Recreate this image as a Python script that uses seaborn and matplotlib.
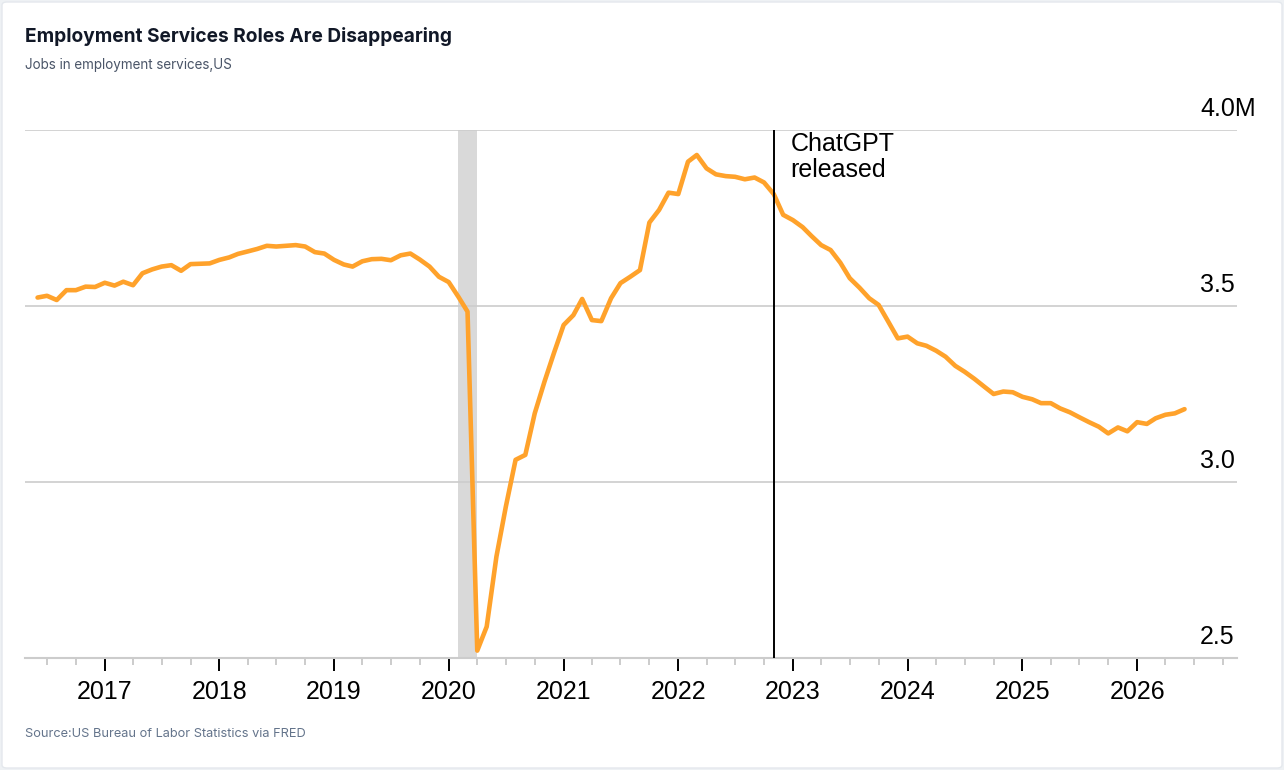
import matplotlib
matplotlib.use("Agg")
import matplotlib.pyplot as plt
import matplotlib.dates as mdates
from matplotlib.patches import FancyBboxPatch
import pandas as pd
import seaborn as sns

# ---------------- data (millions of jobs, monthly) ----------------
start_month = "2016-06-01"
values = [
    # 2016 Jun-Dec
    3.524, 3.529, 3.517, 3.545, 3.545, 3.555, 3.554,
    # 2017
    3.566, 3.558, 3.569, 3.559, 3.593, 3.604, 3.612, 3.616, 3.600, 3.619, 3.620, 3.621,
    # 2018
    3.631, 3.638, 3.648, 3.655, 3.662, 3.671, 3.669, 3.671, 3.673, 3.669, 3.653, 3.649,
    # 2019
    3.631, 3.618, 3.612, 3.627, 3.633, 3.634, 3.630, 3.644, 3.649, 3.632, 3.612, 3.583,
    # 2020
    3.568, 3.526, 3.484, 2.521, 2.589, 2.788, 2.930, 3.063, 3.077, 3.195, 3.285, 3.366,
    # 2021
    3.446, 3.474, 3.520, 3.460, 3.457, 3.522, 3.565, 3.583, 3.602, 3.737, 3.773, 3.822,
    # 2022
    3.818, 3.910, 3.929, 3.891, 3.874, 3.869, 3.867, 3.860, 3.865, 3.851, 3.818, 3.759,
    # 2023
    3.744, 3.724, 3.699, 3.673, 3.659, 3.623, 3.579, 3.552, 3.522, 3.503, 3.455, 3.408,
    # 2024
    3.413, 3.394, 3.387, 3.373, 3.356, 3.330, 3.313, 3.293, 3.271, 3.250, 3.257, 3.255,
    # 2025
    3.242, 3.235, 3.224, 3.224, 3.209, 3.198, 3.184, 3.170, 3.157, 3.138, 3.155, 3.144,
    # 2026 Jan-Jun
    3.170, 3.165, 3.181, 3.191, 3.195, 3.207,
]
dates = pd.date_range(start_month, periods=len(values), freq="MS")
df = pd.DataFrame({"date": dates, "jobs": values})

ytick_values = [2.5, 3.0, 3.5, 4.0]
ytick_labels = ["2.5", "3.0", "3.5", "4.0M"]

recession_start = pd.Timestamp("2020-02-01")
recession_end = pd.Timestamp("2020-04-01")
chatgpt_date = pd.Timestamp("2022-11-01")
chatgpt_label = "ChatGPT\nreleased"

x_min = pd.Timestamp("2016-04-22")
x_max = pd.Timestamp("2026-11-15")

title = "Employment Services Roles Are Disappearing"
subtitle = "Jobs in employment services,US"
source = "Source:US Bureau of Labor Statistics via FRED"

# ---------------- style ----------------
sns.set_theme(style="white")
plt.rcParams["font.family"] = ["Liberation Sans", "DejaVu Sans"]

W, H = 1284, 770
fig = plt.figure(figsize=(W / 100, H / 100), dpi=100)
fig.patch.set_facecolor("#eef1f4")
card = FancyBboxPatch((2 / W, 2 / H), (W - 4) / W, (H - 4) / H,
                      boxstyle="round,pad=0,rounding_size=0.004",
                      transform=fig.transFigure, facecolor="white",
                      edgecolor="#e4e8ed", lw=1.0, zorder=-10)
fig.patches.append(card)

ax_left, ax_right = 25, 1237
ax = fig.add_axes([ax_left / W, (H - 658) / H, (ax_right - ax_left) / W, (658 - 130) / H])
ax.set_zorder(1)
ax.set_facecolor("white")

ax.axvspan(recession_start, recession_end, color="#d9d9d9", lw=0, zorder=0.2)
sns.lineplot(data=df, x="date", y="jobs", ax=ax, color="#FFA22B", lw=3.3,
             zorder=3, legend=False)
ax.axvline(chatgpt_date, color="black", lw=1.4, zorder=4)
ax.annotate(chatgpt_label, xy=(mdates.date2num(chatgpt_date), 1.0),
            xycoords=ax.get_xaxis_transform(), xytext=(12, -1.5),
            textcoords="offset points", ha="left", va="top",
            fontsize=18, linespacing=1.12, color="black")

ax.set_xlim(x_min, x_max)
ax.set_ylim(2.5, 4.0)
ax.set_xlabel("")
ax.set_ylabel("")

ax.set_yticks(ytick_values)
ax.set_yticklabels([])
ax.tick_params(axis="y", length=0)
ax.set_axisbelow(True)
ax.yaxis.grid(True, color="#cccccc", lw=1.2)
ax.xaxis.grid(False)
label_x = (1200 - ax_left) / (ax_right - ax_left)
for v, lab in zip(ytick_values, ytick_labels):
    ax.annotate(lab, xy=(label_x, v), xycoords=ax.get_yaxis_transform(),
                xytext=(0, 10), textcoords="offset points",
                ha="left", va="baseline", fontsize=18, color="black",
                annotation_clip=False)

ax.xaxis.set_major_locator(mdates.YearLocator())
ax.xaxis.set_major_formatter(mdates.DateFormatter("%Y"))
ax.xaxis.set_minor_locator(mdates.MonthLocator(bymonth=[4, 7, 10]))
ax.tick_params(axis="x", which="major", direction="out", length=9.2, width=1.4,
               color="black", pad=6.3, labelsize=18, labelcolor="black",
               bottom=True)
ax.tick_params(axis="x", which="minor", direction="out", length=5, width=1.4,
               color="#cccccc", bottom=True)

for side in ["left", "right", "top"]:
    ax.spines[side].set_visible(False)
ax.spines["bottom"].set_color("#cccccc")
ax.spines["bottom"].set_linewidth(1.5)

fig.text(25 / W, 1 - 36 / H, title, fontsize=13.75, fontweight="bold",
         family=["Inter", "DejaVu Sans"], color="#111827", va="center", ha="left")
fig.text(25 / W, 1 - 65 / H, subtitle, fontsize=9.7,
         family=["Inter", "DejaVu Sans"], color="#4a5568", va="center", ha="left")
fig.text(25 / W, 1 - 734 / H, source, fontsize=9.2,
         family=["Inter", "DejaVu Sans"], color="#64748b", va="center", ha="left")

fig.savefig("out.png", dpi=100, facecolor=fig.get_facecolor())
